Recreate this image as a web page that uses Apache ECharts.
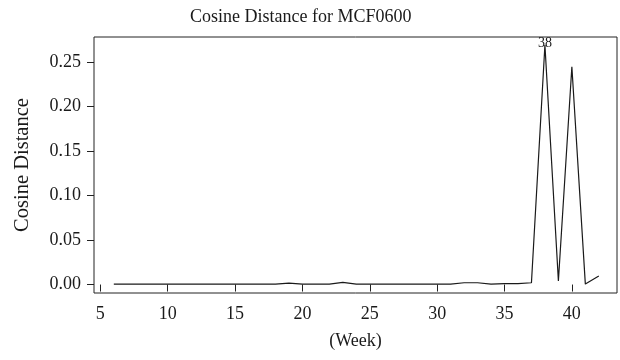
<!DOCTYPE html>
<html>
<head>
<meta charset="utf-8">
<script src="https://cdn.jsdelivr.net/npm/echarts@6/dist/echarts.min.js"></script>
<style>
  html, body { margin: 0; padding: 0; background: #fff; }
  #main { width: 620px; height: 360px; }
</style>
</head>
<body>
<div id="main"></div>
<script>
var weeks = [6, 7, 8, 9, 10, 11, 12, 13, 14, 15, 16, 17, 18, 19, 20, 21, 22, 23, 24,
    25, 26, 27, 28, 29, 30, 31, 32, 33, 34, 35, 36, 37, 38, 39, 40, 41, 42];
var cosDist = [0.0005, 0.0005, 0.0005, 0.0005, 0.0005, 0.0005, 0.0005, 0.0005, 0.0005,
    0.0005, 0.0005, 0.0005, 0.0005, 0.0015, 0.0005, 0.0005, 0.0005, 0.0025, 0.0005,
    0.0005, 0.0005, 0.0005, 0.0005, 0.0005, 0.0005, 0.0005, 0.002, 0.002, 0.0005,
    0.001, 0.001, 0.002, 0.269, 0.004, 0.2445, 0.0005, 0.0095];
var xTicks = [5, 10, 15, 20, 25, 30, 35, 40];
var yTicks = [0, 0.05, 0.1, 0.15, 0.2, 0.25];

var font = '"Liberation Serif", "DejaVu Serif", serif';

var peakIdx = 0;
for (var i = 0; i < cosDist.length; i++) {
    if (cosDist[i] > cosDist[peakIdx]) peakIdx = i;
}
var seriesData = weeks.map(function (w, i) {
    return [w, cosDist[i]];
});

var myChart = echarts.init(document.getElementById('main'));
var option = {
    animation: false,
    title: {
        text: 'Cosine Distance for MCF0600',
        left: 190,
        top: 8,
        padding: 0,
        textStyle: {
            fontFamily: font,
            fontSize: 18,
            fontWeight: 'normal',
            color: '#1a1a1a'
        }
    },
    grid: {
        left: 94,
        right: 3,
        top: 37,
        bottom: 67,
        show: true,
        borderColor: '#222',
        borderWidth: 1
    },
    xAxis: {
        type: 'value',
        min: 4.53,
        max: 43.35,
        name: '(Week)',
        nameLocation: 'middle',
        nameGap: 39,
        nameTextStyle: { fontFamily: font, fontSize: 18, color: '#1a1a1a' },
        splitLine: { show: false },
        axisLine: { show: false },
        axisTick: {
            show: true,
            inside: false,
            length: 7,
            customValues: xTicks,
            lineStyle: { color: '#222', width: 1 }
        },
        axisLabel: {
            customValues: xTicks,
            margin: 12,
            fontFamily: font,
            fontSize: 18,
            color: '#1a1a1a'
        }
    },
    yAxis: {
        type: 'value',
        min: -0.0095,
        max: 0.278,
        name: 'Cosine Distance',
        nameLocation: 'middle',
        nameGap: 61,
        nameTextStyle: { fontFamily: font, fontSize: 20.5, color: '#1a1a1a' },
        splitLine: { show: false },
        axisLine: { show: false },
        axisTick: {
            show: true,
            inside: false,
            length: 7,
            customValues: yTicks,
            lineStyle: { color: '#222', width: 1 }
        },
        axisLabel: {
            customValues: yTicks,
            margin: 13,
            fontFamily: font,
            fontSize: 18,
            color: '#1a1a1a',
            formatter: function (v) { return v.toFixed(2); }
        }
    },
    series: [{
        type: 'line',
        data: seriesData,
        showSymbol: false,
        lineStyle: { color: '#1a1a1a', width: 1.2 },
        markPoint: {
            symbol: 'circle',
            symbolSize: 1,
            itemStyle: { color: 'rgba(0,0,0,0)' },
            label: {
                show: true,
                position: 'inside',
                offset: [0, -2],
                fontFamily: font,
                fontSize: 14,
                color: '#1a1a1a',
                formatter: String(weeks[peakIdx])
            },
            data: [{ coord: seriesData[peakIdx] }]
        }
    }]
};
myChart.setOption(option);
</script>
</body>
</html>
